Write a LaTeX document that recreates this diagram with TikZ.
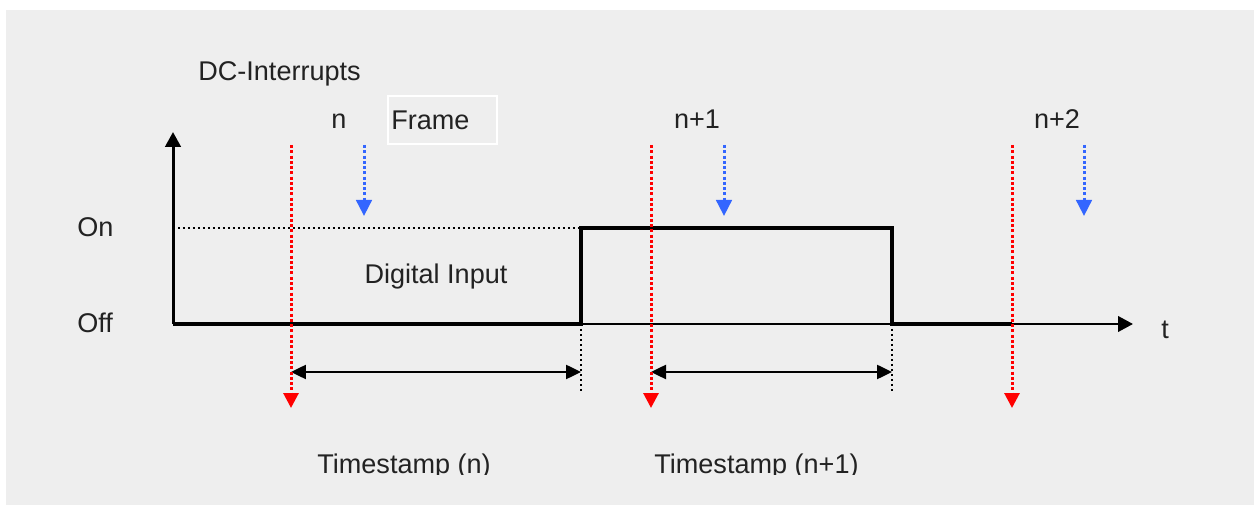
\documentclass[tikz,border=0pt]{standalone}
\usepackage{fontspec}
\setmainfont{Liberation Sans}
\usepackage{xcolor}
\usetikzlibrary{arrows.meta,positioning}

\definecolor{bggray}{RGB}{238,238,238}
\definecolor{irqred}{RGB}{255,0,0}
\definecolor{frmblue}{RGB}{51,102,255}
\definecolor{txtgray}{RGB}{34,34,34}

\tikzset{
  lbl/.style={font=\fontsize{15.4}{18}\selectfont, text=txtgray, inner sep=0pt},
  irqline/.style={irqred, line width=0.06cm, dash pattern=on 1.7pt off 1.3pt,
                  -{Triangle[length=0.3cm,width=0.3cm]}},
  frmline/.style={frmblue, line width=0.06cm, dash pattern=on 1.7pt off 1.3pt,
                  -{Triangle[length=0.32cm,width=0.31cm]}},
  signal/.style={line width=0.085cm, line join=miter},
  axis/.style={line width=0.05cm, -{Triangle[length=0.3cm,width=0.31cm]}},
  span/.style={line width=0.05cm,
               {Triangle[length=0.3cm,width=0.28cm]}-{Triangle[length=0.3cm,width=0.28cm]}},
  level/.style={line width=0.035cm, dash pattern=on 0.04cm off 0.06cm}
}

\begin{document}
\begin{tikzpicture}[x=0.02cm,y=-0.02cm]
    % page and grey panel
    \fill[white] (0,0) rectangle (1255,506);
    \useasboundingbox (0,0) rectangle (1255,506);
    \fill[bggray] (6,10) rectangle (1254,505);

    % key points of the time axis
    \def\yoff{324}  % off level
    \def\yon{228}   % on level
    \def\trise{581} % rising edge
    \def\tfall{892} % falling edge
    \coordinate (O)    at (173,\yoff);
    \coordinate (ytip) at (173,132);
    \coordinate (xtip) at (1133,\yoff);
    \coordinate (rise) at (\trise,\yoff);
    \coordinate (fall) at (\tfall,\yoff);
    \coordinate (onlvl) at (173,\yon);

    % axes
    \draw[axis] (O) -- (xtip);
    \draw[axis, line width=0.06cm] (O) -- (ytip);
    \draw[level] (onlvl) -- (\trise,\yon);

    % digital input signal
    \draw[signal] (O) -- (rise) -- (\trise,\yon) -- (\tfall,\yon) -- (fall) -- (1012,\yoff);

    % edge markers
    \draw[level] (rise) -- ++(0,69);
    \draw[level] (fall) -- ++(0,69);

    % labels
    \node[lbl, anchor=base west] (dcirq) at (198,81) {DC-Interrupts};
    \node[lbl, anchor=base west] (on)  at (77,237) {On};
    \node[lbl, anchor=base west] (off) at (77,333) {Off};
    \node[lbl, anchor=base west] (t)   at (1161,339) {t};
    \node[lbl, anchor=base] (din) at (436,284) {Digital Input};
    \node[lbl, anchor=base west] (frame) at (391,130) {Frame};
    \draw[white, line width=0.03cm] (388,96) rectangle (497,144);

    % DC interrupts (red) and frame starts (blue)
    \foreach \i/\xr/\xb/\xl/\lab in {0/291/364/339/n, 1/651/724/697/n+1, 2/1012/1084/1057/n+2} {
      \node[lbl, anchor=base] (cyc\i) at (\xl,129) {\lab};
      \coordinate (irq\i) at (\xr,145);
      \coordinate (frm\i) at (\xb,145);
      \draw[frmline] (frm\i) -- (\xb,216);
    }

    % timestamps
    \draw[span] (291,372) -- (\trise,372);
    \draw[span] (651,372) -- (\tfall,372);
    \foreach \i in {0,1,2} {
      \draw[irqline] (irq\i) -- ++(0,263);
    }
    \begin{scope}
      \clip (0,0) rectangle (1255,475);
      \node[lbl, anchor=base west] (ts0) at (317,474) {Timestamp (n)};
      \node[lbl, anchor=base west] (ts1) at (654,474) {Timestamp (n+1)};
    \end{scope}
\end{tikzpicture}
\end{document}
